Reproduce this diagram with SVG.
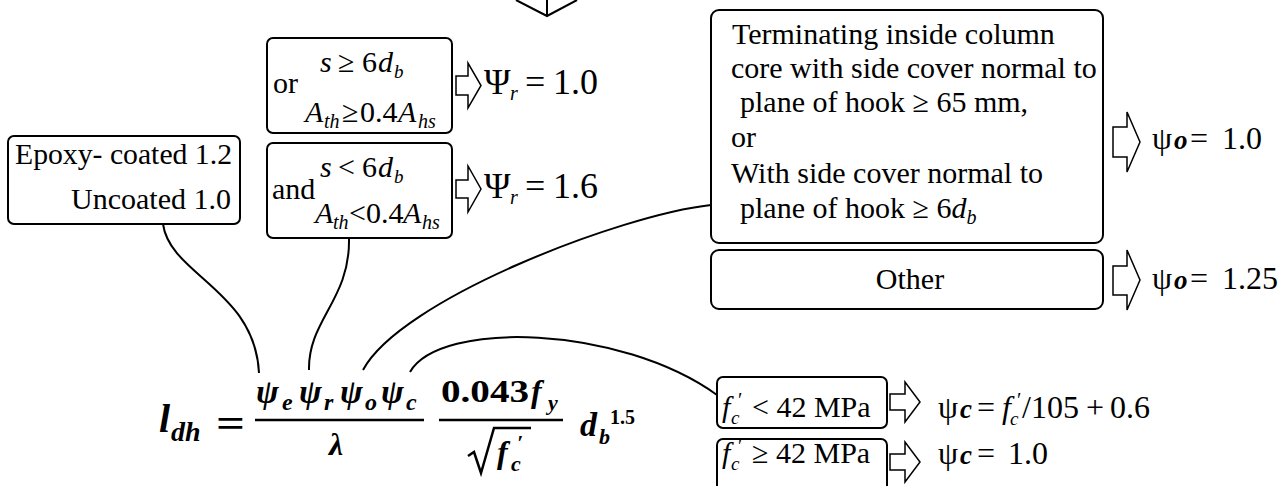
<svg xmlns="http://www.w3.org/2000/svg" width="1280" height="486" viewBox="0 0 1280 486">
<style>
.box{fill:#fff;stroke:#000;stroke-width:2}
.t{font-family:"Liberation Serif","Times New Roman",serif;fill:#000}
.i{font-style:italic}
.bi{font-family:"Liberation Serif","Times New Roman",serif;font-weight:bold;font-style:italic;fill:#000}
.bd{font-family:"Liberation Serif","Times New Roman",serif;font-weight:bold;fill:#000}
.conn{fill:none;stroke:#000;stroke-width:2}
.ba{fill:#fff;stroke:#000;stroke-width:1.5;stroke-linejoin:miter}
</style>
<rect width="1280" height="486" fill="#fff"/>

<g id="connectors">
  <path class="conn" d="M163,224 C170,275 255,290 259,373"/>
  <path class="conn" d="M349,239 C350,300 308,320 309,370"/>
  <path class="conn" d="M711,205 C620,215 400,300 363,370"/>
  <path class="conn" d="M410,372 C440,320 620,325 717,395"/>
</g>

<g id="top-arrow">
  <polyline class="conn" points="516,0 547,16 577,0"/>
  <line class="conn" x1="547" y1="0" x2="547" y2="15"/>
</g>

<g id="epoxy">
  <rect class="box" x="8" y="136" width="232" height="88" rx="6"/>
  <text class="t" x="15" y="164" font-size="30" textLength="217" lengthAdjust="spacingAndGlyphs">Epoxy- coated 1.2</text>
  <text class="t" x="231" y="209" font-size="30" text-anchor="end">Uncoated 1.0</text>
</g>

<g id="spacing-or">
  <rect class="box" x="267" y="38" width="185" height="95" rx="6"/>
  <text class="t" x="273" y="93" font-size="30">or</text>
  <text class="t" font-size="30" y="72"><tspan class="i" x="320">s</tspan><tspan x="338">≥</tspan><tspan x="362">6</tspan><tspan class="i" x="378">d</tspan><tspan class="i" x="394" y="78" font-size="19">b</tspan></text>
  <text class="t" font-size="30" y="122"><tspan class="i" x="305">A</tspan><tspan class="i" x="324" y="128" font-size="20">th</tspan><tspan x="342" y="122">≥</tspan><tspan x="360">0.4</tspan><tspan class="i" x="398">A</tspan><tspan class="i" x="418" y="128" font-size="20">hs</tspan></text>
</g>
<g id="psi-r-1">
  <path class="ba" d="M456,76 H468 V63 L481,85.5 L468,108 V95 H456 Z"/>
  <text class="t" font-size="36" y="94"><tspan x="484">Ψ</tspan><tspan class="i" x="510" y="100" font-size="20">r</tspan><tspan x="525" y="94">=</tspan><tspan x="553">1.0</tspan></text>
</g>

<g id="spacing-and">
  <rect class="box" x="267" y="143" width="185" height="95" rx="6"/>
  <text class="t" x="272" y="199" font-size="30">and</text>
  <text class="t" font-size="30" y="177"><tspan class="i" x="320">s</tspan><tspan x="338">&lt;</tspan><tspan x="362">6</tspan><tspan class="i" x="378">d</tspan><tspan class="i" x="394" y="183" font-size="19">b</tspan></text>
  <text class="t" font-size="30" y="223"><tspan class="i" x="315">A</tspan><tspan class="i" x="333" y="229" font-size="20">th</tspan><tspan x="349" y="223">&lt;</tspan><tspan x="366">0.4</tspan><tspan class="i" x="403">A</tspan><tspan class="i" x="422" y="229" font-size="20">hs</tspan></text>
</g>
<g id="psi-r-2">
  <path class="ba" d="M456,180 H468 V166 L481,189 L468,212 V198 H456 Z"/>
  <text class="t" font-size="36" y="198"><tspan x="484">Ψ</tspan><tspan class="i" x="510" y="204" font-size="20">r</tspan><tspan x="525" y="198">=</tspan><tspan x="553">1.6</tspan></text>
</g>

<g id="hook-cover">
  <rect class="box" x="711" y="10" width="392" height="233" rx="8"/>
  <text class="t" font-size="30">
    <tspan x="732" y="44">Terminating inside column</tspan>
    <tspan x="731" y="78">core with side cover normal to</tspan>
    <tspan x="740" y="112">plane of hook ≥ 65 mm,</tspan>
    <tspan x="731" y="147">or</tspan>
    <tspan x="731" y="183">With side cover normal to</tspan>
    <tspan x="740" y="218">plane of hook ≥ 6<tspan class="i">d</tspan><tspan class="i" font-size="20" dy="6">b</tspan></tspan>
  </text>
</g>
<g id="psi-o-1">
  <path class="ba" d="M1113,127 H1127 V112 L1140,142 L1127,172 V157 H1113 Z"/>
  <text class="t" font-size="32" y="149"><tspan x="1152">ψ</tspan><tspan class="bi" x="1174" font-size="27">o</tspan><tspan x="1190">=</tspan><tspan x="1222">1.0</tspan></text>
</g>

<g id="other">
  <rect class="box" x="711" y="250" width="392" height="59" rx="8"/>
  <text class="t" x="910" y="289" font-size="30" text-anchor="middle">Other</text>
</g>
<g id="psi-o-2">
  <path class="ba" d="M1113,266 H1127 V250 L1140,280 L1127,310 V295 H1113 Z"/>
  <text class="t" font-size="32" y="289"><tspan x="1152">ψ</tspan><tspan class="bi" x="1174" font-size="27">o</tspan><tspan x="1190">=</tspan><tspan x="1222">1.25</tspan></text>
</g>

<g id="fc-low">
  <rect class="box" x="717" y="377" width="170" height="51" rx="6"/>
  <text class="t" font-size="30" y="417"><tspan class="i" x="722">f</tspan><tspan x="738" y="407" font-size="20">′</tspan><tspan class="i" x="731" y="424" font-size="19">c</tspan><tspan x="752" y="417">&lt; 42 MPa</tspan></text>
</g>
<g id="psi-c-1">
  <path class="ba" d="M890,394 H905 V382 L920,402 L905,422 V410 H890 Z"/>
  <text class="t" font-size="32" y="418"><tspan x="938">ψ</tspan><tspan class="bi" x="960" font-size="27">c</tspan><tspan x="977">=</tspan><tspan class="i" x="1002">f</tspan><tspan x="1017" y="407" font-size="20">′</tspan><tspan class="i" x="1010" y="425" font-size="19">c</tspan><tspan x="1022" y="418">/105</tspan><tspan x="1086">+</tspan><tspan x="1110">0.6</tspan></text>
</g>

<g id="fc-high">
  <rect class="box" x="717" y="439" width="170" height="60" rx="6"/>
  <text class="t" font-size="30" y="463"><tspan class="i" x="722">f</tspan><tspan x="738" y="453" font-size="20">′</tspan><tspan class="i" x="731" y="470" font-size="19">c</tspan><tspan x="752" y="463">≥ 42 MPa</tspan></text>
</g>
<g id="psi-c-2">
  <path class="ba" d="M890,454 H905 V442 L920,462 L905,482 V470 H890 Z"/>
  <text class="t" font-size="32" y="464"><tspan x="938">ψ</tspan><tspan class="bi" x="960" font-size="27">c</tspan><tspan x="977">=</tspan><tspan x="1008">1.0</tspan></text>
</g>

<g id="formula">
  <text class="bi" font-size="40" x="159" y="432">l</text>
  <text class="bi" font-size="28" x="171" y="441">dh</text>
  <text class="bd" font-size="40" x="216" y="437" textLength="29" lengthAdjust="spacingAndGlyphs">=</text>
  <text class="bi" font-size="34" y="403"><tspan x="256">ψ</tspan><tspan x="282" y="410" font-size="24">e</tspan><tspan x="299" y="403">ψ</tspan><tspan x="324" y="410" font-size="24">r</tspan><tspan x="340" y="403">ψ</tspan><tspan x="365" y="410" font-size="24">o</tspan><tspan x="381" y="403">ψ</tspan><tspan x="406" y="410" font-size="24">c</tspan></text>
  <line x1="255" y1="420" x2="424" y2="420" stroke="#000" stroke-width="2.5"/>
  <text class="bi" font-size="32" x="329" y="455">λ</text>
  <text class="bd" font-size="32" x="441" y="402" textLength="88" lengthAdjust="spacingAndGlyphs">0.043</text>
  <text class="bi" font-size="32" x="531" y="402">f</text>
  <text class="bi" font-size="22" x="548" y="410">y</text>
  <line x1="439" y1="420" x2="563" y2="420" stroke="#000" stroke-width="2.5"/>
  <polyline points="468,456 474,452 481,473 494,428 531,428" fill="none" stroke="#000" stroke-width="2.5"/>
  <text class="bi" font-size="32" y="463"><tspan x="497">f</tspan><tspan x="517" y="450" font-size="22">′</tspan><tspan x="511" y="471" font-size="22">c</tspan></text>
  <text class="bi" font-size="34" x="580" y="436">d</text>
  <text class="bi" font-size="22" x="599" y="444">b</text>
  <text class="bd" font-size="20" x="610" y="424">1.5</text>
</g>
</svg>
